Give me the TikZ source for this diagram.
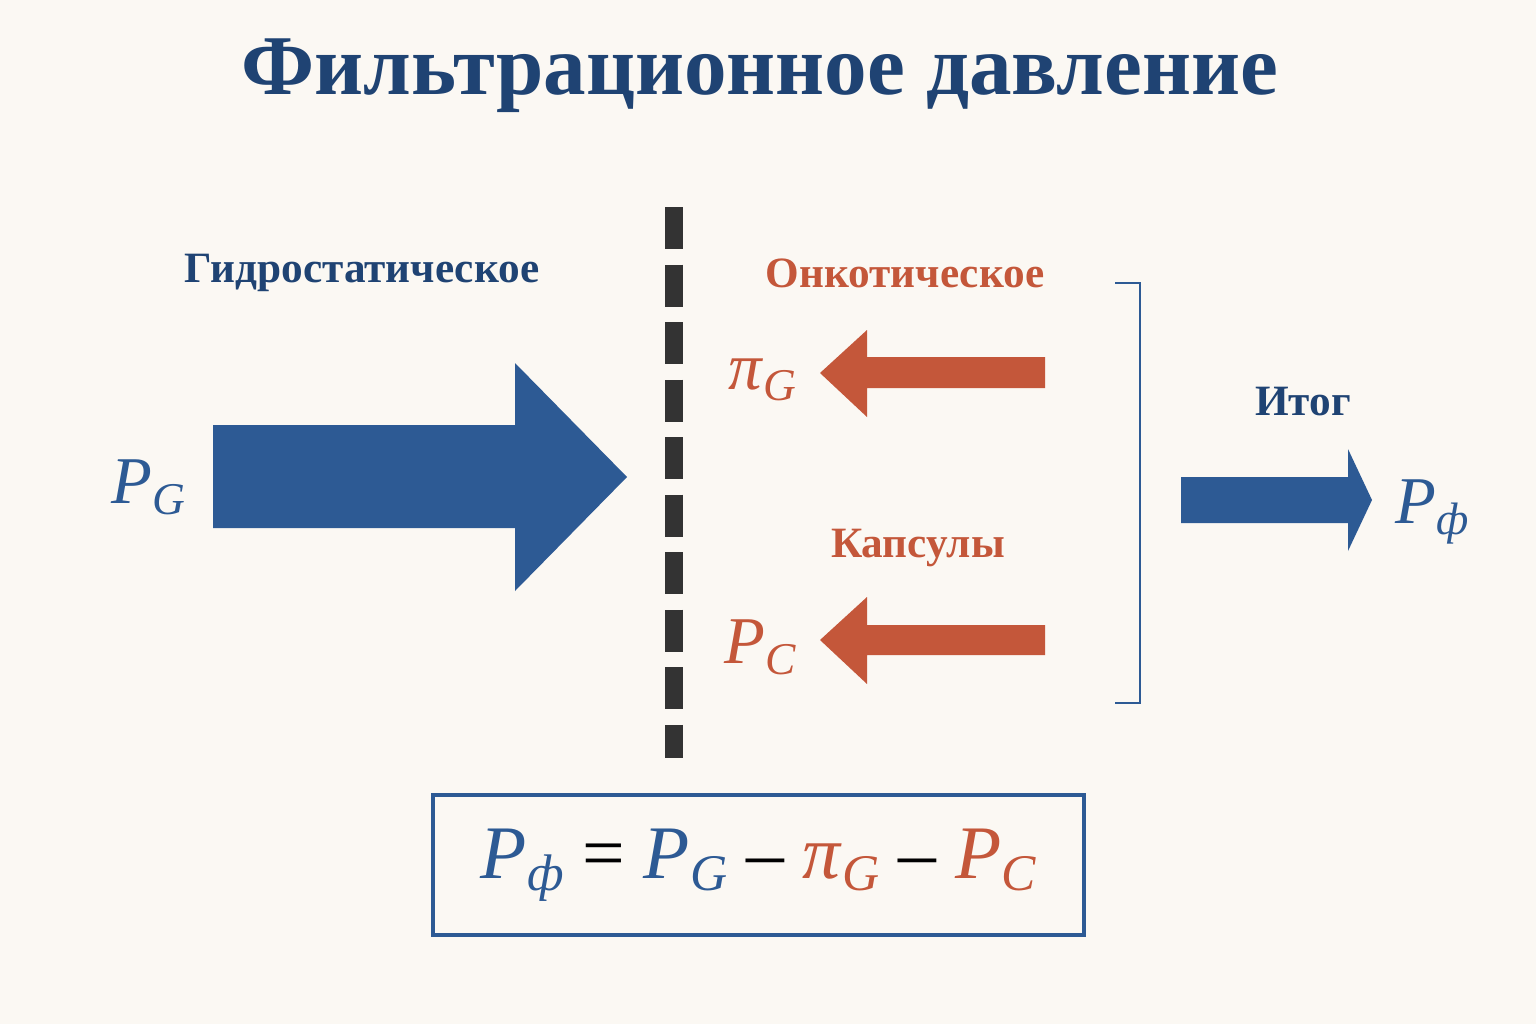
\documentclass[tikz,border=0pt]{standalone}
\usepackage{fontspec}
\setmainfont{Liberation Serif}
\usetikzlibrary{positioning}
\definecolor{titleblue}{HTML}{1F4373}
\definecolor{arrowblue}{HTML}{2D5A94}
\definecolor{oncoorange}{HTML}{C4573A}
\definecolor{bgcream}{HTML}{FBF8F3}
\newcommand{\sub}[1]{\raisebox{-0.35ex}{\scalebox{0.68}{\textit{#1}}}}
\newcommand{\Pf}{\textit{P}\sub{ф}}
\newcommand{\PG}{\textit{P}\sub{G}}
\newcommand{\PC}{\textit{P}\sub{C}}
\newcommand{\piG}{\textit{π}\sub{G}}
\begin{document}
\begin{tikzpicture}[x=0.01cm,y=-0.01cm]
  \tikzset{HeadStyle/.style  = {font=\bfseries\fontsize{12.3}{14}\selectfont, inner sep=0pt},
           SymbolStyle/.style = {font=\fontsize{19}{22}\selectfont, inner sep=0pt}}
  \fill[bgcream] (0,0) rectangle (1536,1024);
  \useasboundingbox (0,0) rectangle (1536,1024);
  %%% TITRE %%%
  \node[font=\bfseries\fontsize{24.2}{28}\selectfont, text=titleblue](title) at (760,76){Фильтрационное давление};
  %%% GAUCHE %%%
  \node[HeadStyle, text=titleblue](hydro) at (362,273){Гидростатическое};
  \node[SymbolStyle, text=arrowblue](pg) at (148,487){\PG};
  \fill[arrowblue] (213,425) -- (515,425) -- (515,363) -- (627,477) -- (515,591) -- (515,528) -- (213,528) -- cycle;
  %%% MEMBRANE %%%
  \coordinate (mtop) at (674,207);
  \coordinate (mbot) at (674,758);
  \draw[black!80, line width=5pt, dash pattern=on 0.42cm off 0.155cm] (mtop) -- (mbot);
  %%% DROITE %%%
  \node[HeadStyle, text=oncoorange](onco) at (905,273){Онкотическое};
  \node[SymbolStyle, text=oncoorange](pig) at (762,380){\piG};
  \fill[oncoorange] (1045,357) -- (867,357) -- (867,330) -- (820,373) -- (867,417) -- (867,388) -- (1045,388) -- cycle;
  \node[HeadStyle, text=oncoorange](caps) at (918,548){Капсулы};
  \node[SymbolStyle, text=oncoorange](pc) at (760,647){\PC};
  \fill[oncoorange] (1045,625) -- (867,625) -- (867,597) -- (820,640) -- (867,684) -- (867,655) -- (1045,655) -- cycle;
  \draw[arrowblue, line width=0.8pt] (1115,283) -- (1140,283) -- (1140,703) -- (1115,703);
  %%% ITOG %%%
  \node[HeadStyle, text=titleblue](itog) at (1303,402){Итог};
  \fill[arrowblue] (1181,477) -- (1348,477) -- (1348,449) -- (1372,500) -- (1348,551) -- (1348,523) -- (1181,523) -- cycle;
  \node[SymbolStyle, text=arrowblue](pf) at (1432,512){\Pf};
  %%% FORMULE %%%
  \node[draw=arrowblue, line width=1pt, minimum width=6.51cm, minimum height=1.4cm, inner sep=0pt,
        font=\fontsize{21.5}{25}\selectfont](formula) at (758.5,865)
       {\textcolor{arrowblue}{\Pf} = \textcolor{arrowblue}{\PG} – \textcolor{oncoorange}{\piG} – \textcolor{oncoorange}{\PC}};
\end{tikzpicture}
\end{document}
